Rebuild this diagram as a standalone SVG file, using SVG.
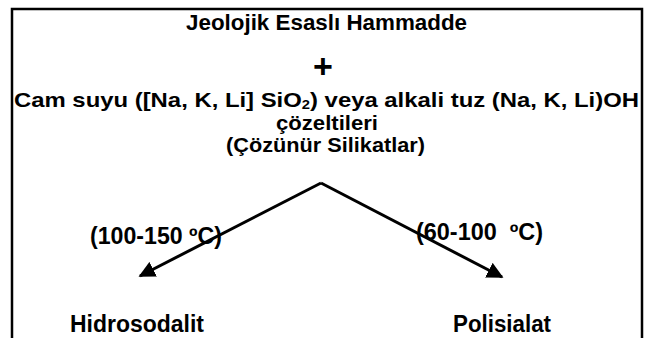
<svg xmlns="http://www.w3.org/2000/svg" width="647" height="338" viewBox="0 0 647 338">
<defs>
<style>
text{font-family:"Liberation Sans",Arial,sans-serif;font-weight:bold;fill:#000;font-size:22px}
.s{font-size:21px}
.l{font-size:23px}
.conn{stroke:#000;stroke-width:3;fill:none}
</style>
<marker id="ah" viewBox="0 0 10 10" refX="9" refY="5" markerWidth="5.5" markerHeight="5.5" orient="auto" markerUnits="strokeWidth">
<path d="M0,0 L10,5 L0,10 z" fill="#000"/>
</marker>
</defs>
<rect width="647" height="338" fill="#fff"/>
<path d="M12,345 V9 H642 V345" fill="none" stroke="#000" stroke-width="2.5"/>
<g id="source">
<text x="186" y="30" textLength="281" lengthAdjust="spacingAndGlyphs">Jeolojik Esaslı Hammadde</text>
<text x="323" y="78" text-anchor="middle" style="font-size:34px">+</text>
<text class="s" x="14" y="107" textLength="625" lengthAdjust="spacingAndGlyphs">Cam suyu ([Na, K, Li] SiO<tspan font-size="13" dy="2">2</tspan><tspan dy="-2">) veya alkali tuz (Na, K, Li)OH</tspan></text>
<text class="s" x="276" y="130" textLength="102" lengthAdjust="spacingAndGlyphs">çözeltileri</text>
<text class="s" x="226" y="152" textLength="199" lengthAdjust="spacingAndGlyphs">(Çözünür Silikatlar)</text>
</g>
<g id="connectors">
<path class="conn" d="M321,183 L140,276" marker-end="url(#ah)"/>
<path class="conn" d="M321,183 L502,277" marker-end="url(#ah)"/>
<text class="l" x="90" y="244" textLength="132" lengthAdjust="spacingAndGlyphs">(100-150 ºC)</text>
<text class="l" x="416" y="240" textLength="127" lengthAdjust="spacingAndGlyphs" xml:space="preserve">(60-100  ºC)</text>
</g>
<g id="hidrosodalit">
<text class="l" x="70" y="332" textLength="134" lengthAdjust="spacingAndGlyphs">Hidrosodalit</text>
</g>
<g id="polisialat">
<text class="l" x="453" y="332" textLength="98" lengthAdjust="spacingAndGlyphs">Polisialat</text>
</g>
</svg>
